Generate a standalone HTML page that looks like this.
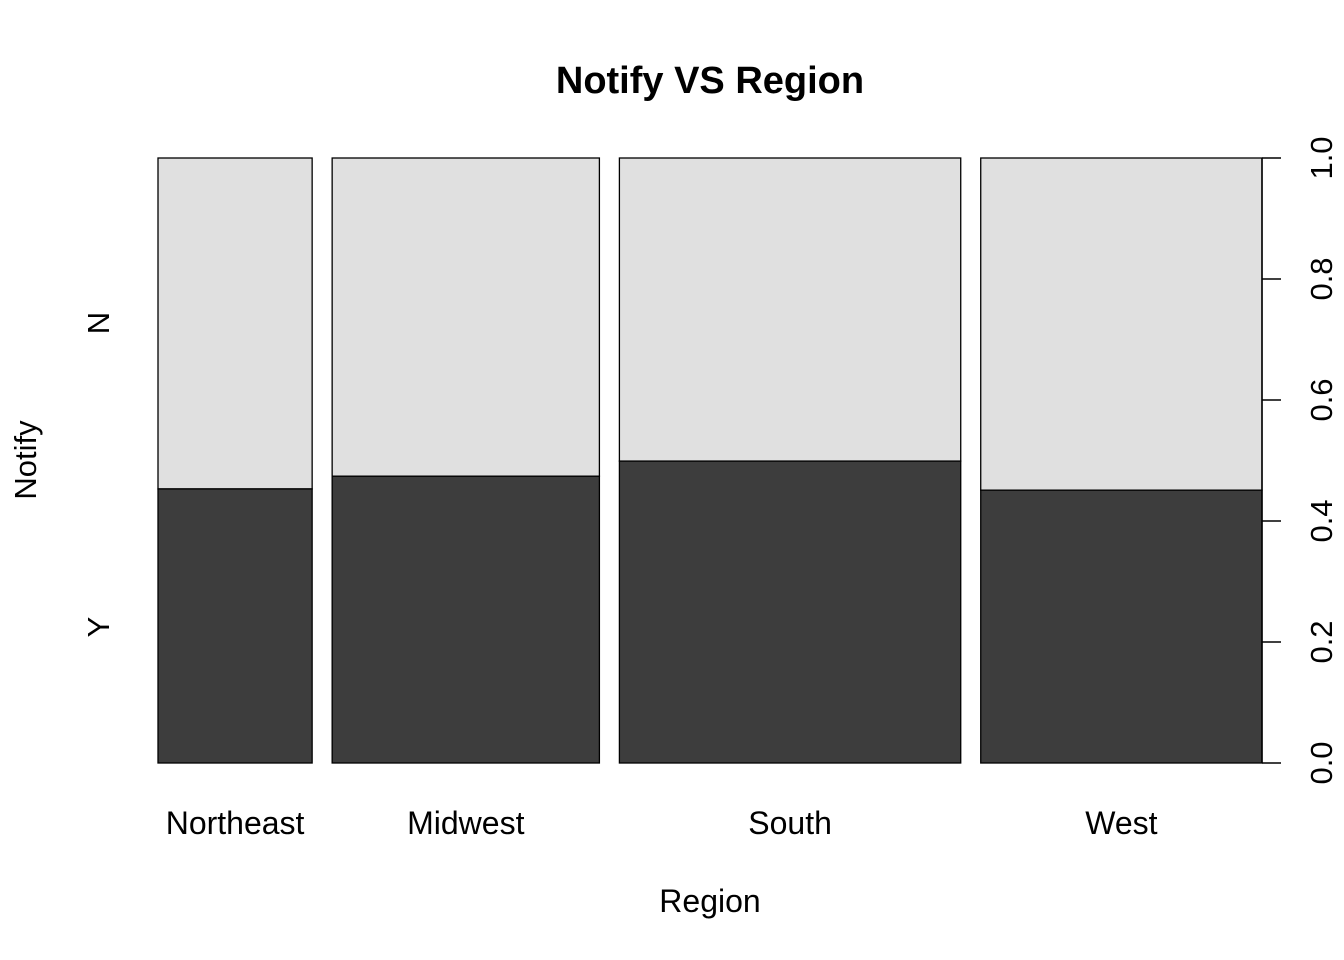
<!DOCTYPE html>
<html><head><meta charset="utf-8"><style>
html,body{margin:0;padding:0;background:#fff;}
svg{display:block;font-family:"Liberation Sans",Arial,sans-serif;}
</style></head><body>
<svg id="chart" width="1344" height="960" viewBox="0 0 1344 960">
<text x="710" y="93" text-anchor="middle" font-size="38" font-weight="bold">Notify VS Region</text>
<g id="bars"></g>
<g id="axis"></g>
<text x="710" y="912" text-anchor="middle" font-size="32">Region</text>
<text transform="translate(36,460) rotate(-90)" text-anchor="middle" font-size="31">Notify</text>
<text transform="translate(109,323) rotate(-90)" text-anchor="middle" font-size="31">N</text>
<text transform="translate(109,627) rotate(-90)" text-anchor="middle" font-size="31">Y</text>
</svg>
<script>
const categories = ["Northeast","Midwest","South","West"];
const counts = [154,267,341,281];
const yesShare = [0.453,0.474,0.499,0.451];
const tickLabels = ["0.0","0.2","0.4","0.6","0.8","1.0"];
const tickValues = [0,0.2,0.4,0.6,0.8,1.0];

const NS="http://www.w3.org/2000/svg";
const x0=158,x1=1262,gap=20,yTop=158,yBot=763;
const yScale=v=>yBot-v*(yBot-yTop);
const total=counts.reduce((a,b)=>a+b,0);
const usable=(x1-x0)-gap*(categories.length-1);
const bars=document.getElementById('bars');
const axis=document.getElementById('axis');
function mk(tag,attrs,parent){const e=document.createElementNS(NS,tag);for(const k in attrs)e.setAttribute(k,attrs[k]);parent.appendChild(e);return e;}
let x=x0;
categories.forEach((c,i)=>{
  const w=counts[i]/total*usable;
  const ys=yScale(yesShare[i]);
  const n=mk('rect',{x:x,y:yTop,width:w,height:ys-yTop,fill:'#e0e0e0',stroke:'#000','stroke-width':1.3},bars);
  
  
  const y=mk('rect',{x:x,y:ys,width:w,height:yBot-ys,fill:'#3d3d3d',stroke:'#000','stroke-width':1.3},bars);
  
  
  const t=mk('text',{x:x+w/2,y:834,'text-anchor':'middle','font-size':32},bars);
  t.textContent=c;
  
  
  x+=w+gap;
});
const line=mk('line',{x1:x1,x2:x1,y1:yTop,y2:yBot,stroke:'#000','stroke-width':1.5},axis);


tickValues.forEach((v,i)=>{
  const yy=yScale(v);
  const tk=mk('line',{x1:x1,x2:x1+19,y1:yy,y2:yy,stroke:'#000','stroke-width':1.5},axis);
  
  
  const t=mk('text',{transform:`translate(1332,${yy}) rotate(-90)`,'text-anchor':'middle','font-size':31},axis);
  t.textContent=tickLabels[i];
  
  
});
</script>
</body></html>
